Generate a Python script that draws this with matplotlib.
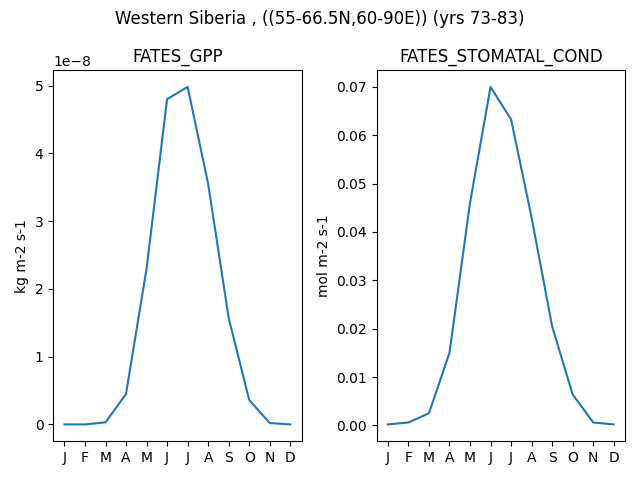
import matplotlib
matplotlib.use('Agg')
import matplotlib.pyplot as plt

months = ['J', 'F', 'M', 'A', 'M', 'J', 'J', 'A', 'S', 'O', 'N', 'D']
gpp = [0.0, 0.0, 0.03, 0.45, 2.3, 4.8, 4.98, 3.55, 1.57, 0.36, 0.02, 0.0]
gpp = [v * 1e-8 for v in gpp]
stomatal = [0.0002, 0.0006, 0.0025, 0.015, 0.046, 0.070, 0.0633, 0.043, 0.0205, 0.0064, 0.0006, 0.0002]

fig, axes = plt.subplots(1, 2)
fig.set_size_inches(6.4, 4.8)
fig.suptitle('Western Siberia , ((55-66.5N,60-90E)) (yrs 73-83)')

ax = axes[0]
ax.plot(range(12), gpp)
ax.set_title('FATES_GPP')
ax.set_ylabel('kg m-2 s-1')
ax.set_xticks(range(12))
ax.set_xticklabels(months)

ax = axes[1]
ax.plot(range(12), stomatal)
ax.set_title('FATES_STOMATAL_COND')
ax.set_ylabel('mol m-2 s-1')
ax.set_xticks(range(12))
ax.set_xticklabels(months)

fig.tight_layout()
fig.savefig('out.png', dpi=100)
